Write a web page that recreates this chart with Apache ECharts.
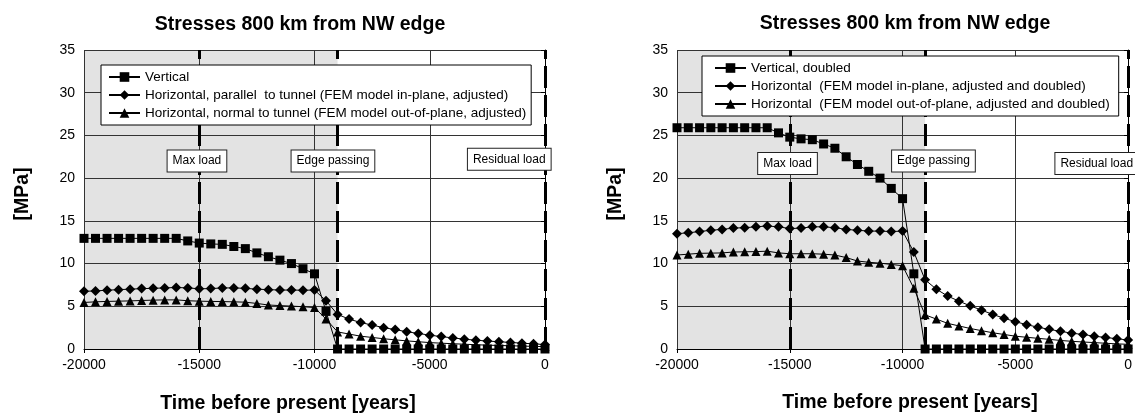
<!DOCTYPE html>
<html><head><meta charset="utf-8">
<script src="https://cdn.jsdelivr.net/npm/echarts@6/dist/echarts.min.js"></script>
<style>html,body{margin:0;padding:0;background:#fff}#c{width:1135px;height:414px}</style>
</head><body><div id="c"></div>
<script>
// ---- data ----
const years = [-20000,-19500,-19000,-18500,-18000,-17500,-17000,-16500,-16000,-15500,-15000,-14500,-14000,-13500,-13000,-12500,-12000,-11500,-11000,-10500,-10000,-9500,-9000,-8500,-8000,-7500,-7000,-6500,-6000,-5500,-5000,-4500,-4000,-3500,-3000,-2500,-2000,-1500,-1000,-500,0];

const leftVertical = [12.95,12.95,12.95,12.95,12.95,12.95,12.95,12.95,12.95,12.65,12.4,12.3,12.25,12.0,11.75,11.25,10.8,10.4,10.0,9.4,8.8,4.4,0,0,0,0,0,0,0,0,0,0,0,0,0,0,0,0,0,0,0];
const leftParallel = [6.75,6.8,6.88,6.95,7.0,7.07,7.1,7.15,7.2,7.15,7.05,7.07,7.15,7.15,7.1,7.0,6.95,6.9,6.9,6.88,6.9,5.65,4.05,3.5,3.1,2.8,2.5,2.27,2.02,1.82,1.62,1.45,1.3,1.15,1.03,0.93,0.85,0.77,0.68,0.6,0.52];
const leftNormal = [5.45,5.52,5.57,5.6,5.63,5.68,5.72,5.75,5.75,5.65,5.6,5.57,5.55,5.52,5.48,5.33,5.15,5.08,5.02,4.95,4.85,3.5,2.0,1.75,1.5,1.35,1.2,1.07,0.95,0.85,0.75,0.68,0.62,0.56,0.5,0.45,0.41,0.38,0.34,0.31,0.28];

const rightVertical = [25.9,25.9,25.9,25.9,25.9,25.9,25.9,25.9,25.9,25.3,24.8,24.6,24.5,24.0,23.5,22.5,21.6,20.8,20.0,18.8,17.6,8.8,0,0,0,0,0,0,0,0,0,0,0,0,0,0,0,0,0,0,0];
const rightInPlane = [13.5,13.6,13.75,13.9,14.0,14.15,14.2,14.3,14.4,14.3,14.1,14.15,14.3,14.3,14.2,14.0,13.9,13.8,13.8,13.75,13.8,11.35,8.1,7.0,6.2,5.6,5.05,4.55,4.05,3.6,3.2,2.85,2.55,2.3,2.07,1.85,1.7,1.5,1.35,1.2,1.05];
const rightOutPlane = [11.0,11.1,11.2,11.22,11.25,11.35,11.38,11.4,11.45,11.25,11.15,11.15,11.15,11.1,11.0,10.7,10.3,10.15,10.05,9.9,9.75,7.1,4.0,3.5,3.0,2.7,2.4,2.15,1.9,1.7,1.5,1.37,1.25,1.13,1.0,0.9,0.82,0.75,0.67,0.6,0.55];

const leftNames = ['Vertical', 'Horizontal, parallel  to tunnel (FEM model in-plane, adjusted)', 'Horizontal, normal to tunnel (FEM model out-of-plane, adjusted)'];
const rightNames = ['Vertical, doubled', 'Horizontal  (FEM model in-plane, adjusted and doubled)', 'Horizontal  (FEM model out-of-plane, adjusted and doubled)'];
const chartTitle = 'Stresses 800 km from NW edge';
const xTitle = 'Time before present [years]';
const yTitle = '[MPa]';

const eventLines = [-15000, -9000, 0];          // dashed vertical lines
const shadeRange = [-20000, -9000];             // grey ice-load period
const leftNotes = [['Max load', -15100, 22], ['Edge passing', -9200, 22], ['Residual load', -1550, 22.2]];
const rightNotes = [['Max load', -15100, 21.7], ['Edge passing', -8630, 22], ['Residual load', -1390, 21.7]];

// ---- chart ----
const FONT = '"Liberation Sans", Arial, sans-serif';
const chart = echarts.init(document.getElementById('c'), null, {renderer: 'canvas'});

function xAxisCfg(gi) {
  return {
    type: 'value', gridIndex: gi, min: -20000, max: 0, interval: 5000, z: 1,
    axisLine: {show: true, lineStyle: {color: '#000', width: 1}},
    axisTick: {show: true, length: 4, lineStyle: {color: '#000'}},
    axisLabel: {margin: 9, fontSize: 14, fontFamily: FONT, color: '#000', formatter: v => String(v)},
    splitLine: {show: true, lineStyle: {color: '#333', width: 1}}
  };
}
function yAxisCfg(gi) {
  return {
    type: 'value', gridIndex: gi, min: 0, max: 35, interval: 5, z: 1,
    axisLine: {show: true, lineStyle: {color: '#000', width: 1}},
    axisTick: {show: true, length: 4, lineStyle: {color: '#000'}},
    axisLabel: {margin: 9, fontSize: 14, fontFamily: FONT, color: '#000'},
    splitLine: {show: true, lineStyle: {color: '#333', width: 1}}
  };
}
const symbols = ['rect', 'diamond', 'triangle'];
const symSizes = [9, 10, 9];
function dataSeries(gi, names, arrays, notes) {
  const out = [];
  out.push({
    type: 'line', xAxisIndex: gi, yAxisIndex: gi, data: [], z: 0, silent: true,
    markArea: {silent: true, z: 0, itemStyle: {color: '#e3e3e3'},
      data: [[{xAxis: shadeRange[0]}, {xAxis: shadeRange[1]}]]}
  });
  arrays.forEach((arr, i) => {
    const s = {
      type: 'line', name: names[i], xAxisIndex: gi, yAxisIndex: gi, z: 2,
      data: years.map((y, k) => [y, arr[k]]),
      symbol: symbols[i], symbolSize: symSizes[i], showAllSymbol: true,
      lineStyle: {color: '#000', width: 1}, itemStyle: {color: '#000'},
      animation: false
    };
    if (i === 0) {
      s.markLine = {silent: true, z: 3, symbol: ['none', 'none'], label: {show: false},
        lineStyle: {color: '#000', width: 3, type: [22, 7]},
        data: eventLines.map(v => ({xAxis: v}))};
      s.markPoint = {silent: true, z: 10, symbol: 'rect', symbolSize: 1, itemStyle: {color: 'rgba(0,0,0,0)'},
        label: {show: true, position: 'inside', formatter: p => p.name, backgroundColor: '#fff',
          borderColor: '#222', borderWidth: 1, padding: [5, 5, 4, 5], fontSize: 12, fontFamily: FONT, color: '#000'},
        data: notes.map(n => ({name: n[0], coord: [n[1], n[2]]}))};
    }
    out.push(s);
  });
  return out;
}
function legendCfg(names, left, top, pad) {
  return {
    data: names, orient: 'vertical', left: left, top: top, selectedMode: false,
    backgroundColor: '#fff', borderColor: '#000', borderWidth: 1, padding: pad,
    itemWidth: 31, itemHeight: 12, itemGap: 4,
    textStyle: {fontSize: 13.5, fontFamily: FONT, color: '#000'}
  };
}
function txt(x, y, s, rot) {
  return {type: 'text', x: x, y: y, rotation: rot || 0, z: 100,
    style: {text: s, font: 'bold 19.5px ' + FONT, fill: '#000', textAlign: 'center', textVerticalAlign: 'middle'}};
}

chart.setOption({
  backgroundColor: '#fff',
  animation: false,
  grid: [
    {left: 84, top: 50, width: 461, height: 299},
    {left: 677, top: 50, width: 459, height: 299}
  ],
  xAxis: [xAxisCfg(0), xAxisCfg(1)],
  yAxis: [yAxisCfg(0), yAxisCfg(1)],
  legend: [legendCfg(leftNames, 101, 65, [5, 5, 5, 7]), legendCfg(rightNames, 702, 56, [5, 9, 5, 12])],
  series: [].concat(
    dataSeries(0, leftNames, [leftVertical, leftParallel, leftNormal], leftNotes),
    dataSeries(1, rightNames, [rightVertical, rightInPlane, rightOutPlane], rightNotes)
  ),
  graphic: [
    txt(300, 25, chartTitle), txt(905, 24, chartTitle),
    txt(288, 404, xTitle), txt(910, 403, xTitle),
    txt(23, 194, yTitle, Math.PI / 2), txt(616, 194, yTitle, Math.PI / 2)
  ]
});
</script></body></html>
